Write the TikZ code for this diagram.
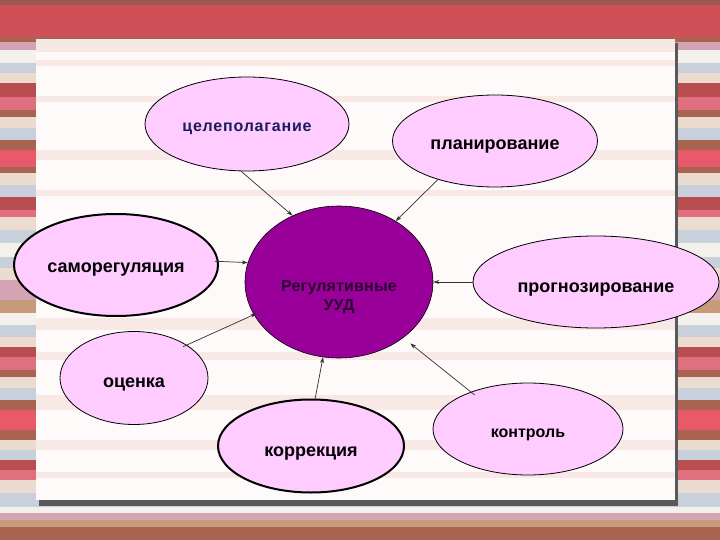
\documentclass[tikz,border=0pt]{standalone}
\usepackage{fontspec}
\setmainfont{Liberation Sans}
\usetikzlibrary{shapes.geometric,arrows.meta}
\definecolor{bgbr}{HTML}{A86450}
\definecolor{bgbrd}{HTML}{9C5850}
\definecolor{bgrd}{HTML}{D05058}
\definecolor{bgpk}{HTML}{E07080}
\definecolor{bgrr}{HTML}{E85A6A}
\definecolor{bgdr}{HTML}{B84E50}
\definecolor{bgbe}{HTML}{ECDCD0}
\definecolor{bgwh}{HTML}{F4F0EC}
\definecolor{bglb}{HTML}{C8D0DC}
\definecolor{bgmv}{HTML}{D4A4B4}
\definecolor{bgor}{HTML}{C89A7C}
\definecolor{panel}{HTML}{FDFAF9}
\definecolor{pstripe}{HTML}{F8E8E6}
\definecolor{bubble}{HTML}{FFCCFF}
\definecolor{core}{HTML}{990099}
\definecolor{navy}{HTML}{1C1C5C}
\definecolor{coretext}{HTML}{2A0030}
\definecolor{conn}{HTML}{303030}
\newcommand\lowtext[2]{\raisebox{-#1}[0pt][0pt]{#2}}
\tikzset{
  bub/.style={ellipse, draw=black, fill=bubble, line width=0.8pt, inner sep=0pt,
    font=\fontsize{18}{20}\selectfont\bfseries, text=black},
  bubthick/.style={bub, line width=2pt},
  arr/.style={draw=conn, line width=0.7pt, -{Stealth[length=6pt,width=4pt]}}
}
\begin{document}
\begin{tikzpicture}[x=1pt,y=-1pt]
\useasboundingbox (0,0) rectangle (720,540);
% background stripes
\foreach \a/\b/\c in {0/5/bgbrd,5/37/bgrd,37/42/bgbr,42/50/bgmv,50/63/bgwh,63/73/bglb,73/83/bgbe,83/97/bgdr,97/110/bgpk,110/117/bgbr,117/128/bgbe,128/140/bglb,140/150/bgbr,150/167/bgrr,167/173/bgbr,173/185/bgbe,185/197/bglb,197/210/bgdr,210/217/bgpk,217/230/bgbe,230/243/bglb,243/257/bgwh,257/268/bglb,268/280/bgbe,280/300/bgmv,300/313/bgor,313/325/bgwh,325/337/bglb,337/347/bgbe,347/357/bgdr,357/370/bgpk,370/377/bgbr,377/388/bgbe,388/400/bglb,400/410/bgbr,410/430/bgrr,430/440/bgbr,440/450/bgbe,450/460/bglb,460/470/bgdr,470/480/bgpk,480/493/bgbe,493/507/bglb,507/513/bgwh,513/520/bgmv,520/527/bgor,527/540/bgbr}
  \fill[\c] (0,\a) rectangle (720,\b);
% panel with shadow
\fill[black!65] (39,43) rectangle (678,506);
\fill[panel] (36,39) rectangle (675,500);
\fill[bgbe!60] (36,39) rectangle (675,52);
\foreach \a/\b in {60/66,96/102,150/160,190/196,318/330,352/360,395/410,440/450,472/478}
  \fill[pstripe] (36,\a) rectangle (675,\b);
% nodes
\node[ellipse, draw=black, fill=core, line width=0.6pt, minimum width=188pt, minimum height=152pt, inner sep=0pt,
  font=\fontsize{16}{19}\selectfont\bfseries\addfontfeatures{LetterSpace=1}, text=coretext]
  (reg) at (339,282) {\lowtext{9pt}{\begin{tabular}[t]{@{}c@{}}Регулятивные\\УУД\end{tabular}}};
\node[bub, minimum width=204pt, minimum height=94pt, text=navy,
  font=\fontsize{16}{18}\selectfont\bfseries\addfontfeatures{LetterSpace=5}] (cel) at (247,124) {\lowtext{8pt}{целеполагание}};
\node[bub, minimum width=205pt, minimum height=92pt] (plan) at (495,141) {\lowtext{9pt}{планирование}};
\node[bubthick, minimum width=204pt, minimum height=102pt] (samo) at (116,265) {\lowtext{7pt}{саморегуляция}};
\node[bub, minimum width=246pt, minimum height=92pt] (prog) at (596,282) {\lowtext{10pt}{прогнозирование}};
\node[bub, minimum width=148pt, minimum height=93pt] (ocen) at (134,378) {\lowtext{9pt}{оценка}};
\node[bubthick, minimum width=186pt, minimum height=93pt] (korr) at (311,446) {\lowtext{10pt}{коррекция}};
\node[bub, minimum width=190pt, minimum height=92pt, font=\fontsize{16}{18}\selectfont\bfseries] (kontr) at (528,429) {\lowtext{8pt}{контроль}};
% connectors
\draw[arr] (cel.263) -- (reg.125);
\draw[arr] (plan.214) -- (reg.47);
\draw[arr, shorten <=-4pt] (samo.2) -- (reg.168);
\draw[arr] (prog.180) -- (reg.0);
\draw[arr, shorten <=-4pt, shorten >=-3pt] (ocen.32) -- (reg.201);
\draw[arr] (korr.85) -- (reg.258);
\draw[arr, shorten <=-5pt, shorten >=9pt] (kontr.147) -- (reg.319);
\end{tikzpicture}
\end{document}
